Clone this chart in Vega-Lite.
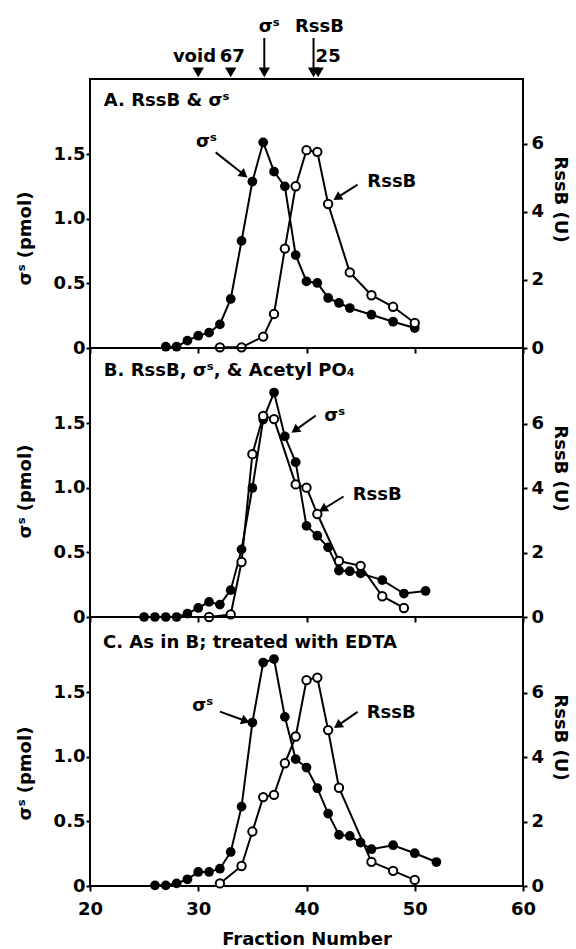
{
  "$schema": "https://vega.github.io/schema/vega-lite/v6.json",
  "autosize": {"type": "pad"},
  "padding": {"left": 15, "top": 17, "right": 5, "bottom": 0},
  "background": "white",
  "config": {
    "font": "DejaVu Sans",
    "view": {"stroke": "black", "strokeWidth": 2},
    "axis": {"grid": false, "domain": false, "tickColor": "black", "tickWidth": 2, "labelColor": "black", "labelFont": "DejaVu Sans", "labelFontWeight": "bold", "labelFontSize": 18, "titleFont": "DejaVu Sans", "titleFontWeight": "bold", "titleFontSize": 18, "titleColor": "black", "labelFlush": false, "labelOverlap": false},
    "text": {"font": "DejaVu Sans", "fontWeight": "bold", "fontSize": 18}
  },
  "datasets": {
    "curves": [
      {"panel":"A","series":"sigma","fraction":27,"value":0.01},
      {"panel":"A","series":"sigma","fraction":28,"value":0.01},
      {"panel":"A","series":"sigma","fraction":29,"value":0.057},
      {"panel":"A","series":"sigma","fraction":30,"value":0.095},
      {"panel":"A","series":"sigma","fraction":31,"value":0.119},
      {"panel":"A","series":"sigma","fraction":32,"value":0.183},
      {"panel":"A","series":"sigma","fraction":33,"value":0.38},
      {"panel":"A","series":"sigma","fraction":34,"value":0.83},
      {"panel":"A","series":"sigma","fraction":35,"value":1.29},
      {"panel":"A","series":"sigma","fraction":36,"value":1.594},
      {"panel":"A","series":"sigma","fraction":37,"value":1.367},
      {"panel":"A","series":"sigma","fraction":38,"value":1.253},
      {"panel":"A","series":"sigma","fraction":39,"value":0.72},
      {"panel":"A","series":"sigma","fraction":40,"value":0.516},
      {"panel":"A","series":"sigma","fraction":41,"value":0.504},
      {"panel":"A","series":"sigma","fraction":42,"value":0.388},
      {"panel":"A","series":"sigma","fraction":43,"value":0.349},
      {"panel":"A","series":"sigma","fraction":44,"value":0.31},
      {"panel":"A","series":"sigma","fraction":46,"value":0.258},
      {"panel":"A","series":"sigma","fraction":48,"value":0.204},
      {"panel":"A","series":"sigma","fraction":50,"value":0.155},
      {"panel":"A","series":"rssb","fraction":32,"value":0.02},
      {"panel":"A","series":"rssb","fraction":34,"value":0.02},
      {"panel":"A","series":"rssb","fraction":36,"value":0.335},
      {"panel":"A","series":"rssb","fraction":37,"value":1.0},
      {"panel":"A","series":"rssb","fraction":38,"value":2.92},
      {"panel":"A","series":"rssb","fraction":39,"value":4.75},
      {"panel":"A","series":"rssb","fraction":40,"value":5.81},
      {"panel":"A","series":"rssb","fraction":41,"value":5.76},
      {"panel":"A","series":"rssb","fraction":42,"value":4.23},
      {"panel":"A","series":"rssb","fraction":44,"value":2.22},
      {"panel":"A","series":"rssb","fraction":46,"value":1.55},
      {"panel":"A","series":"rssb","fraction":48,"value":1.21},
      {"panel":"A","series":"rssb","fraction":50,"value":0.735},
      {"panel":"B","series":"sigma","fraction":25,"value":0.0},
      {"panel":"B","series":"sigma","fraction":26,"value":0.0},
      {"panel":"B","series":"sigma","fraction":27,"value":0.0},
      {"panel":"B","series":"sigma","fraction":28,"value":0.0},
      {"panel":"B","series":"sigma","fraction":29,"value":0.026},
      {"panel":"B","series":"sigma","fraction":30,"value":0.07},
      {"panel":"B","series":"sigma","fraction":31,"value":0.117},
      {"panel":"B","series":"sigma","fraction":32,"value":0.096},
      {"panel":"B","series":"sigma","fraction":33,"value":0.208},
      {"panel":"B","series":"sigma","fraction":34,"value":0.524},
      {"panel":"B","series":"sigma","fraction":35,"value":1.0},
      {"panel":"B","series":"sigma","fraction":36,"value":1.53},
      {"panel":"B","series":"sigma","fraction":37,"value":1.74},
      {"panel":"B","series":"sigma","fraction":38,"value":1.4},
      {"panel":"B","series":"sigma","fraction":39,"value":1.2},
      {"panel":"B","series":"sigma","fraction":40,"value":0.706},
      {"panel":"B","series":"sigma","fraction":41,"value":0.63},
      {"panel":"B","series":"sigma","fraction":42,"value":0.54},
      {"panel":"B","series":"sigma","fraction":43,"value":0.36},
      {"panel":"B","series":"sigma","fraction":44,"value":0.355},
      {"panel":"B","series":"sigma","fraction":45,"value":0.338},
      {"panel":"B","series":"sigma","fraction":47,"value":0.286},
      {"panel":"B","series":"sigma","fraction":49,"value":0.182},
      {"panel":"B","series":"sigma","fraction":51,"value":0.202},
      {"panel":"B","series":"rssb","fraction":31,"value":0.0},
      {"panel":"B","series":"rssb","fraction":33,"value":0.08},
      {"panel":"B","series":"rssb","fraction":34,"value":1.71},
      {"panel":"B","series":"rssb","fraction":35,"value":5.06},
      {"panel":"B","series":"rssb","fraction":36,"value":6.25},
      {"panel":"B","series":"rssb","fraction":37,"value":6.15},
      {"panel":"B","series":"rssb","fraction":39,"value":4.12},
      {"panel":"B","series":"rssb","fraction":40,"value":4.02},
      {"panel":"B","series":"rssb","fraction":41,"value":3.2},
      {"panel":"B","series":"rssb","fraction":43,"value":1.74},
      {"panel":"B","series":"rssb","fraction":45,"value":1.59},
      {"panel":"B","series":"rssb","fraction":47,"value":0.645},
      {"panel":"B","series":"rssb","fraction":49,"value":0.28},
      {"panel":"C","series":"sigma","fraction":26,"value":0.005},
      {"panel":"C","series":"sigma","fraction":27,"value":0.005},
      {"panel":"C","series":"sigma","fraction":28,"value":0.02},
      {"panel":"C","series":"sigma","fraction":29,"value":0.052},
      {"panel":"C","series":"sigma","fraction":30,"value":0.109},
      {"panel":"C","series":"sigma","fraction":31,"value":0.109},
      {"panel":"C","series":"sigma","fraction":32,"value":0.134},
      {"panel":"C","series":"sigma","fraction":33,"value":0.264},
      {"panel":"C","series":"sigma","fraction":34,"value":0.615},
      {"panel":"C","series":"sigma","fraction":35,"value":1.267},
      {"panel":"C","series":"sigma","fraction":36,"value":1.732},
      {"panel":"C","series":"sigma","fraction":37,"value":1.759},
      {"panel":"C","series":"sigma","fraction":38,"value":1.311},
      {"panel":"C","series":"sigma","fraction":39,"value":0.983},
      {"panel":"C","series":"sigma","fraction":40,"value":0.918},
      {"panel":"C","series":"sigma","fraction":41,"value":0.758},
      {"panel":"C","series":"sigma","fraction":42,"value":0.561},
      {"panel":"C","series":"sigma","fraction":43,"value":0.396},
      {"panel":"C","series":"sigma","fraction":44,"value":0.388},
      {"panel":"C","series":"sigma","fraction":45,"value":0.336},
      {"panel":"C","series":"sigma","fraction":46,"value":0.285},
      {"panel":"C","series":"sigma","fraction":48,"value":0.316},
      {"panel":"C","series":"sigma","fraction":50,"value":0.254},
      {"panel":"C","series":"sigma","fraction":52,"value":0.186},
      {"panel":"C","series":"rssb","fraction":32,"value":0.08},
      {"panel":"C","series":"rssb","fraction":34,"value":0.62},
      {"panel":"C","series":"rssb","fraction":35,"value":1.69},
      {"panel":"C","series":"rssb","fraction":36,"value":2.76},
      {"panel":"C","series":"rssb","fraction":37,"value":2.83},
      {"panel":"C","series":"rssb","fraction":38,"value":3.81},
      {"panel":"C","series":"rssb","fraction":39,"value":4.64},
      {"panel":"C","series":"rssb","fraction":40,"value":6.39},
      {"panel":"C","series":"rssb","fraction":41,"value":6.47},
      {"panel":"C","series":"rssb","fraction":42,"value":4.84},
      {"panel":"C","series":"rssb","fraction":43,"value":3.05},
      {"panel":"C","series":"rssb","fraction":46,"value":0.75},
      {"panel":"C","series":"rssb","fraction":48,"value":0.47},
      {"panel":"C","series":"rssb","fraction":50,"value":0.19}
    ],
    "arrows": [
      {"panel":"A","fraction":31.61,"value":1.516,"fraction2":34.23,"value2":1.343},
      {"panel":"A","fraction":44.72,"value":1.266,"fraction2":42.83,"value2":1.165},
      {"panel":"A","fraction":36.1,"value":2.403,"fraction2":36.1,"value2":2.136},
      {"panel":"A","fraction":40.65,"value":2.403,"fraction2":40.65,"value2":2.136},
      {"panel":"B","fraction":40.86,"value":1.562,"fraction2":38.94,"value2":1.447},
      {"panel":"B","fraction":43.42,"value":0.934,"fraction2":41.51,"value2":0.835},
      {"panel":"C","fraction":32.01,"value":1.352,"fraction2":34.38,"value2":1.279},
      {"panel":"C","fraction":44.72,"value":1.35,"fraction2":42.88,"value2":1.243}
    ],
    "heads": [
      {"panel":"A","fraction":34.23,"value":1.343,"angle":128.3},
      {"panel":"A","fraction":42.83,"value":1.165,"angle":-122.5},
      {"panel":"B","fraction":38.94,"value":1.447,"angle":-125.5},
      {"panel":"B","fraction":41.51,"value":0.835,"angle":-121.6},
      {"panel":"C","fraction":34.38,"value":1.279,"angle":110.3},
      {"panel":"C","fraction":42.88,"value":1.243,"angle":-124.9}
    ],
    "markers": [
      {"marker":"void","fraction":30,"value":2.136},
      {"marker":"67","fraction":33,"value":2.136},
      {"marker":"sigma","fraction":36.1,"value":2.136},
      {"marker":"RssB","fraction":40.65,"value":2.136},
      {"marker":"25","fraction":41.07,"value":2.136}
    ],
    "labels": [
      {"panel":"A","fraction":29.65,"value":2.22,"text":"void"},
      {"panel":"A","fraction":33.15,"value":2.22,"text":"67"},
      {"panel":"A","fraction":42.0,"value":2.22,"text":"25"},
      {"panel":"A","fraction":36.55,"value":2.447,"text":"σˢ"},
      {"panel":"A","fraction":41.2,"value":2.447,"text":"RssB"},
      {"panel":"A","fraction":30.76,"value":1.558,"text":"σˢ"},
      {"panel":"A","fraction":47.88,"value":1.245,"text":"RssB"},
      {"panel":"B","fraction":42.6,"value":1.523,"text":"σˢ"},
      {"panel":"B","fraction":46.53,"value":0.903,"text":"RssB"},
      {"panel":"C","fraction":30.41,"value":1.358,"text":"σˢ"},
      {"panel":"C","fraction":47.83,"value":1.301,"text":"RssB"}
    ],
    "panels": [
      {"panel":"A","fraction":21.28,"value":1.878,"text":"A. RssB & σˢ"},
      {"panel":"B","fraction":21.28,"value":1.868,"text":"B. RssB, σˢ, & Acetyl PO₄"},
      {"panel":"C","fraction":21.2,"value":1.845,"text":"C. As in B; treated with EDTA"}
    ]
  },
  "spacing": 0,
  "bounds": "flush",
  "vconcat": [
    {
      "width": 433, "height": 269,
      "layer": [
        {"layer": [
          {"data": {"name": "curves"}, "transform": [{"filter": "datum.panel == 'A' && datum.series == 'sigma'"}],
           "mark": {"type": "line", "color": "black", "strokeWidth": 2},
           "encoding": {
             "x": {"field": "fraction", "type": "quantitative", "scale": {"domain": [20, 60], "nice": false, "zero": false}, "axis": {"values": [20, 30, 40, 50, 60], "labels": false, "title": null, "tickSize": 5}},
             "y": {"field": "value", "type": "quantitative", "scale": {"domain": [0, 2.085], "nice": false}, "axis": {"orient": "left", "values": [0, 0.5, 1, 1.5], "labelExpr": "datum.value == 0 ? '0' : format(datum.value, '.1f')", "title": "σˢ (pmol)", "tickSize": 4, "labelPadding": 1, "titlePadding": 19, "titleY": 159}}
           }},
          {"data": {"name": "curves"}, "transform": [{"filter": "datum.panel == 'A' && datum.series == 'sigma'"}],
           "mark": {"type": "point", "shape": "circle", "filled": true, "color": "black", "opacity": 1, "size": 95},
           "encoding": {"x": {"field": "fraction", "type": "quantitative"}, "y": {"field": "value", "type": "quantitative"}}},
          {"data": {"name": "arrows"}, "transform": [{"filter": "datum.panel == 'A'"}],
           "mark": {"type": "rule", "color": "black", "strokeWidth": 2, "clip": false},
           "encoding": {"x": {"field": "fraction", "type": "quantitative"}, "y": {"field": "value", "type": "quantitative"}, "x2": {"field": "fraction2"}, "y2": {"field": "value2"}}},
          {"data": {"name": "heads"}, "transform": [{"filter": "datum.panel == 'A'"}],
           "mark": {"type": "point", "shape": "triangle-up", "filled": true, "color": "black", "opacity": 1, "size": 100},
           "encoding": {"x": {"field": "fraction", "type": "quantitative"}, "y": {"field": "value", "type": "quantitative"}, "angle": {"field": "angle", "type": "quantitative", "scale": null}}},
          {"data": {"name": "markers"},
           "mark": {"type": "point", "shape": "triangle-down", "filled": true, "color": "black", "opacity": 1, "size": 130, "clip": false},
           "encoding": {"x": {"field": "fraction", "type": "quantitative"}, "y": {"field": "value", "type": "quantitative"}}},
          {"data": {"name": "labels"}, "transform": [{"filter": "datum.panel == 'A'"}],
           "mark": {"type": "text", "align": "center", "baseline": "alphabetic", "color": "black", "clip": false},
           "encoding": {"x": {"field": "fraction", "type": "quantitative"}, "y": {"field": "value", "type": "quantitative"}, "text": {"field": "text"}}},
          {"data": {"name": "panels"}, "transform": [{"filter": "datum.panel == 'A'"}],
           "mark": {"type": "text", "align": "left", "baseline": "alphabetic", "color": "black"},
           "encoding": {"x": {"field": "fraction", "type": "quantitative"}, "y": {"field": "value", "type": "quantitative"}, "text": {"field": "text"}}}
        ]},
        {"layer": [
          {"data": {"name": "curves"}, "transform": [{"filter": "datum.panel == 'A' && datum.series == 'rssb'"}],
           "mark": {"type": "line", "color": "black", "strokeWidth": 2},
           "encoding": {
             "x": {"field": "fraction", "type": "quantitative"},
             "y": {"field": "value", "type": "quantitative", "scale": {"domain": [0, 7.9], "nice": false}, "axis": {"orient": "right", "values": [0, 2, 4, 6], "title": "RssB (U)", "tickSize": 4, "labelPadding": 4, "titlePadding": 7, "titleY": 120, "titleAngle": 90}}
           }},
          {"data": {"name": "curves"}, "transform": [{"filter": "datum.panel == 'A' && datum.series == 'rssb'"}],
           "mark": {"type": "point", "shape": "circle", "filled": true, "fill": "white", "stroke": "black", "strokeWidth": 2, "opacity": 1, "size": 70},
           "encoding": {"x": {"field": "fraction", "type": "quantitative"}, "y": {"field": "value", "type": "quantitative"}}}
        ]}
      ],
      "resolve": {"scale": {"y": "independent"}}
    },
    {
      "width": 433, "height": 269,
      "layer": [
        {"layer": [
          {"data": {"name": "curves"}, "transform": [{"filter": "datum.panel == 'B' && datum.series == 'sigma'"}],
           "mark": {"type": "line", "color": "black", "strokeWidth": 2},
           "encoding": {
             "x": {"field": "fraction", "type": "quantitative", "scale": {"domain": [20, 60], "nice": false, "zero": false}, "axis": {"values": [20, 30, 40, 50, 60], "labels": false, "title": null, "tickSize": 5}},
             "y": {"field": "value", "type": "quantitative", "scale": {"domain": [0, 2.085], "nice": false}, "axis": {"orient": "left", "values": [0, 0.5, 1, 1.5], "labelExpr": "datum.value == 0 ? '0' : format(datum.value, '.1f')", "title": "σˢ (pmol)", "tickSize": 4, "labelPadding": 1, "titlePadding": 19, "titleY": 143}}
           }},
          {"data": {"name": "curves"}, "transform": [{"filter": "datum.panel == 'B' && datum.series == 'sigma'"}],
           "mark": {"type": "point", "shape": "circle", "filled": true, "color": "black", "opacity": 1, "size": 95},
           "encoding": {"x": {"field": "fraction", "type": "quantitative"}, "y": {"field": "value", "type": "quantitative"}}},
          {"data": {"name": "arrows"}, "transform": [{"filter": "datum.panel == 'B'"}],
           "mark": {"type": "rule", "color": "black", "strokeWidth": 2},
           "encoding": {"x": {"field": "fraction", "type": "quantitative"}, "y": {"field": "value", "type": "quantitative"}, "x2": {"field": "fraction2"}, "y2": {"field": "value2"}}},
          {"data": {"name": "heads"}, "transform": [{"filter": "datum.panel == 'B'"}],
           "mark": {"type": "point", "shape": "triangle-up", "filled": true, "color": "black", "opacity": 1, "size": 100},
           "encoding": {"x": {"field": "fraction", "type": "quantitative"}, "y": {"field": "value", "type": "quantitative"}, "angle": {"field": "angle", "type": "quantitative", "scale": null}}},
          {"data": {"name": "labels"}, "transform": [{"filter": "datum.panel == 'B'"}],
           "mark": {"type": "text", "align": "center", "baseline": "alphabetic", "color": "black"},
           "encoding": {"x": {"field": "fraction", "type": "quantitative"}, "y": {"field": "value", "type": "quantitative"}, "text": {"field": "text"}}},
          {"data": {"name": "panels"}, "transform": [{"filter": "datum.panel == 'B'"}],
           "mark": {"type": "text", "align": "left", "baseline": "alphabetic", "color": "black"},
           "encoding": {"x": {"field": "fraction", "type": "quantitative"}, "y": {"field": "value", "type": "quantitative"}, "text": {"field": "text"}}}
        ]},
        {"layer": [
          {"data": {"name": "curves"}, "transform": [{"filter": "datum.panel == 'B' && datum.series == 'rssb'"}],
           "mark": {"type": "line", "color": "black", "strokeWidth": 2},
           "encoding": {
             "x": {"field": "fraction", "type": "quantitative"},
             "y": {"field": "value", "type": "quantitative", "scale": {"domain": [0, 8.36], "nice": false}, "axis": {"orient": "right", "values": [0, 2, 4, 6], "title": "RssB (U)", "tickSize": 4, "labelPadding": 4, "titlePadding": 7, "titleY": 120, "titleAngle": 90}}
           }},
          {"data": {"name": "curves"}, "transform": [{"filter": "datum.panel == 'B' && datum.series == 'rssb'"}],
           "mark": {"type": "point", "shape": "circle", "filled": true, "fill": "white", "stroke": "black", "strokeWidth": 2, "opacity": 1, "size": 70},
           "encoding": {"x": {"field": "fraction", "type": "quantitative"}, "y": {"field": "value", "type": "quantitative"}}}
        ]}
      ],
      "resolve": {"scale": {"y": "independent"}}
    },
    {
      "width": 433, "height": 269,
      "layer": [
        {"layer": [
          {"data": {"name": "curves"}, "transform": [{"filter": "datum.panel == 'C' && datum.series == 'sigma'"}],
           "mark": {"type": "line", "color": "black", "strokeWidth": 2},
           "encoding": {
             "x": {"field": "fraction", "type": "quantitative", "scale": {"domain": [20, 60], "nice": false, "zero": false}, "axis": {"values": [20, 30, 40, 50, 60], "title": "Fraction Number", "tickSize": 5, "labelPadding": 9, "titlePadding": 12}},
             "y": {"field": "value", "type": "quantitative", "scale": {"domain": [0, 2.085], "nice": false}, "axis": {"orient": "left", "values": [0, 0.5, 1, 1.5], "labelExpr": "datum.value == 0 ? '0' : format(datum.value, '.1f')", "title": "σˢ (pmol)", "tickSize": 4, "labelPadding": 1, "titlePadding": 19, "titleY": 156}}
           }},
          {"data": {"name": "curves"}, "transform": [{"filter": "datum.panel == 'C' && datum.series == 'sigma'"}],
           "mark": {"type": "point", "shape": "circle", "filled": true, "color": "black", "opacity": 1, "size": 95},
           "encoding": {"x": {"field": "fraction", "type": "quantitative"}, "y": {"field": "value", "type": "quantitative"}}},
          {"data": {"name": "arrows"}, "transform": [{"filter": "datum.panel == 'C'"}],
           "mark": {"type": "rule", "color": "black", "strokeWidth": 2},
           "encoding": {"x": {"field": "fraction", "type": "quantitative"}, "y": {"field": "value", "type": "quantitative"}, "x2": {"field": "fraction2"}, "y2": {"field": "value2"}}},
          {"data": {"name": "heads"}, "transform": [{"filter": "datum.panel == 'C'"}],
           "mark": {"type": "point", "shape": "triangle-up", "filled": true, "color": "black", "opacity": 1, "size": 100},
           "encoding": {"x": {"field": "fraction", "type": "quantitative"}, "y": {"field": "value", "type": "quantitative"}, "angle": {"field": "angle", "type": "quantitative", "scale": null}}},
          {"data": {"name": "labels"}, "transform": [{"filter": "datum.panel == 'C'"}],
           "mark": {"type": "text", "align": "center", "baseline": "alphabetic", "color": "black"},
           "encoding": {"x": {"field": "fraction", "type": "quantitative"}, "y": {"field": "value", "type": "quantitative"}, "text": {"field": "text"}}},
          {"data": {"name": "panels"}, "transform": [{"filter": "datum.panel == 'C'"}],
           "mark": {"type": "text", "align": "left", "baseline": "alphabetic", "color": "black"},
           "encoding": {"x": {"field": "fraction", "type": "quantitative"}, "y": {"field": "value", "type": "quantitative"}, "text": {"field": "text"}}}
        ]},
        {"layer": [
          {"data": {"name": "curves"}, "transform": [{"filter": "datum.panel == 'C' && datum.series == 'rssb'"}],
           "mark": {"type": "line", "color": "black", "strokeWidth": 2},
           "encoding": {
             "x": {"field": "fraction", "type": "quantitative"},
             "y": {"field": "value", "type": "quantitative", "scale": {"domain": [0, 8.35], "nice": false}, "axis": {"orient": "right", "values": [0, 2, 4, 6], "title": "RssB (U)", "tickSize": 4, "labelPadding": 4, "titlePadding": 7, "titleY": 120, "titleAngle": 90}}
           }},
          {"data": {"name": "curves"}, "transform": [{"filter": "datum.panel == 'C' && datum.series == 'rssb'"}],
           "mark": {"type": "point", "shape": "circle", "filled": true, "fill": "white", "stroke": "black", "strokeWidth": 2, "opacity": 1, "size": 70},
           "encoding": {"x": {"field": "fraction", "type": "quantitative"}, "y": {"field": "value", "type": "quantitative"}}}
        ]}
      ],
      "resolve": {"scale": {"y": "independent"}}
    }
  ]
}
